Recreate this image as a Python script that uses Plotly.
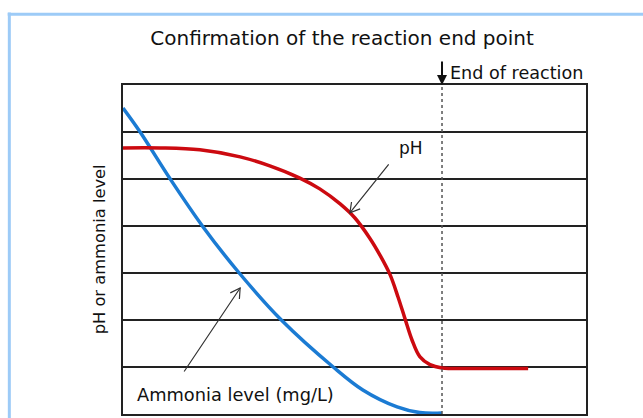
import math
import plotly.graph_objects as go

# ---- data (arbitrary units) ----
ph_x = [0.0, 0.80, 1.66, 2.53, 3.17, 3.82, 4.25, 4.69, 5.01, 5.33, 5.55, 5.77, 5.94, 6.09, 6.24, 6.41, 6.63, 6.89, 7.71, 8.75]
ph_y = [5.66, 5.66, 5.62, 5.47, 5.28, 5.02, 4.79, 4.47, 4.17, 3.74, 3.38, 2.96, 2.49, 2.03, 1.58, 1.22, 1.05, 0.98, 0.97, 0.97]

nh3_x = [0.0, 0.37, 1.02, 1.73, 2.51, 3.42, 4.54, 5.18, 5.92, 6.41, 6.89]
nh3_y = [6.51, 6.0, 5.0, 3.98, 3.0, 2.0, 1.0, 0.51, 0.15, 0.03, 0.02]

end_x = 6.89
x_range = [0, 10]
y_range = [0, 7]

title = "Confirmation of the reaction end point"
y_title = "pH or ammonia level"
end_label = "End of reaction"
ph_label = "pH"
nh3_label = "Ammonia level (mg/L)"

RED = "#CC0A10"
BLUE = "#1B7BD3"
FONT = "DejaVu Sans, sans-serif"

fig = go.Figure()
fig.add_trace(go.Scatter(x=nh3_x, y=nh3_y, mode="lines",
                         line=dict(color=BLUE, width=3.5, shape="spline", smoothing=1.0),
                         hoverinfo="skip", showlegend=False))
fig.add_trace(go.Scatter(x=ph_x, y=ph_y, mode="lines",
                         line=dict(color=RED, width=3.5, shape="spline", smoothing=1.0),
                         hoverinfo="skip", showlegend=False))

shapes = []
# end of reaction dotted line
shapes.append(dict(type="line", xref="x", yref="y", x0=end_x, x1=end_x, y0=y_range[0], y1=y_range[1],
                   line=dict(color="#555555", width=1.5, dash="dot"), layer="above"))
# light blue frame
shapes.append(dict(type="line", xref="paper", yref="paper", x0=-0.249, x1=1.13, y0=1.215, y1=1.215,
                   line=dict(color="#9DCBF7", width=3)))
shapes.append(dict(type="line", xref="paper", yref="paper", x0=-0.2455, x1=-0.2455, y0=1.22, y1=-0.03,
                   line=dict(color="#9DCBF7", width=3)))


def vhead(xh, yh, dx, dy, L=11, ang=30):
    n = math.hypot(dx, dy)
    bx, by = -dx / n, -dy / n
    pts = []
    for s in (1, -1):
        a = math.radians(ang * s)
        wx = L * (bx * math.cos(a) - by * math.sin(a))
        wy = L * (bx * math.sin(a) + by * math.cos(a))
        pts.append((wx, -wy))
    path = "M %.2f,%.2f L 0,0 L %.2f,%.2f" % (pts[0][0], pts[0][1], pts[1][0], pts[1][1])
    return dict(type="path", xref="x", yref="y", xsizemode="pixel", ysizemode="pixel",
                xanchor=xh, yanchor=yh, path=path, line=dict(color="#333333", width=1.2))


annotations = []
# pointer arrows (shaft as annotation, open head as shape)
ph_head = (4.90, 4.28)
ph_off = (40, -50)
nh3_head = (2.53, 2.68)
nh3_off = (-57, 85)
for (hx, hy), (ox, oy) in ((ph_head, ph_off), (nh3_head, nh3_off)):
    annotations.append(dict(x=hx, y=hy, xref="x", yref="y", ax=ox, ay=oy, text="", showarrow=True,
                            arrowhead=0, arrowwidth=1.2, arrowcolor="#333333"))
    shapes.append(vhead(hx, hy, -ox, -oy))

annotations.append(dict(x=6.22, y=5.65, xref="x", yref="y", text=ph_label, showarrow=False,
                        xanchor="center", yanchor="middle", font=dict(family=FONT, size=17, color="#111")))
annotations.append(dict(x=0.26, y=0.42, xref="x", yref="y", text=nh3_label, showarrow=False,
                        xanchor="left", yanchor="middle", font=dict(family=FONT, size=17.8, color="#111")))
# end of reaction marker
annotations.append(dict(x=end_x, y=y_range[1], xref="x", yref="y", ax=0, ay=-25, text="", showarrow=True,
                        arrowhead=2, arrowsize=1, arrowwidth=2, arrowcolor="#111"))
annotations.append(dict(x=0.703, y=1.036, xref="paper", yref="paper", text=end_label, showarrow=False,
                        xanchor="left", yanchor="middle", font=dict(family=FONT, size=17.6, color="#111")))
annotations.append(dict(x=-0.05, y=0.5, xref="paper", yref="paper", text=y_title, showarrow=False,
                        textangle=-90, xanchor="center", yanchor="middle",
                        font=dict(family=FONT, size=16.3, color="#111")))

fig.update_layout(
    width=643, height=418,
    margin=dict(l=123, r=57, t=85, b=4),
    paper_bgcolor="white", plot_bgcolor="white",
    title=dict(text=title, x=0.532, xref="container", xanchor="center",
               y=0.909, yref="container", yanchor="middle",
               font=dict(family=FONT, size=20, color="#111")),
    xaxis=dict(range=x_range, showgrid=False, zeroline=False, showticklabels=False, ticks="",
               showline=True, mirror=True, linecolor="#222", linewidth=2, fixedrange=True),
    yaxis=dict(range=y_range, dtick=1, showgrid=True, gridcolor="#222", gridwidth=1.6, zeroline=False,
               showticklabels=False, ticks="", showline=True, mirror=True, linecolor="#222",
               linewidth=2, fixedrange=True),
    shapes=shapes, annotations=annotations,
    showlegend=False,
)

fig.write_html("out.html", config={"displayModeBar": False, "staticPlot": True},
               post_script="document.body.style.margin='0';document.body.style.overflow='hidden';")
